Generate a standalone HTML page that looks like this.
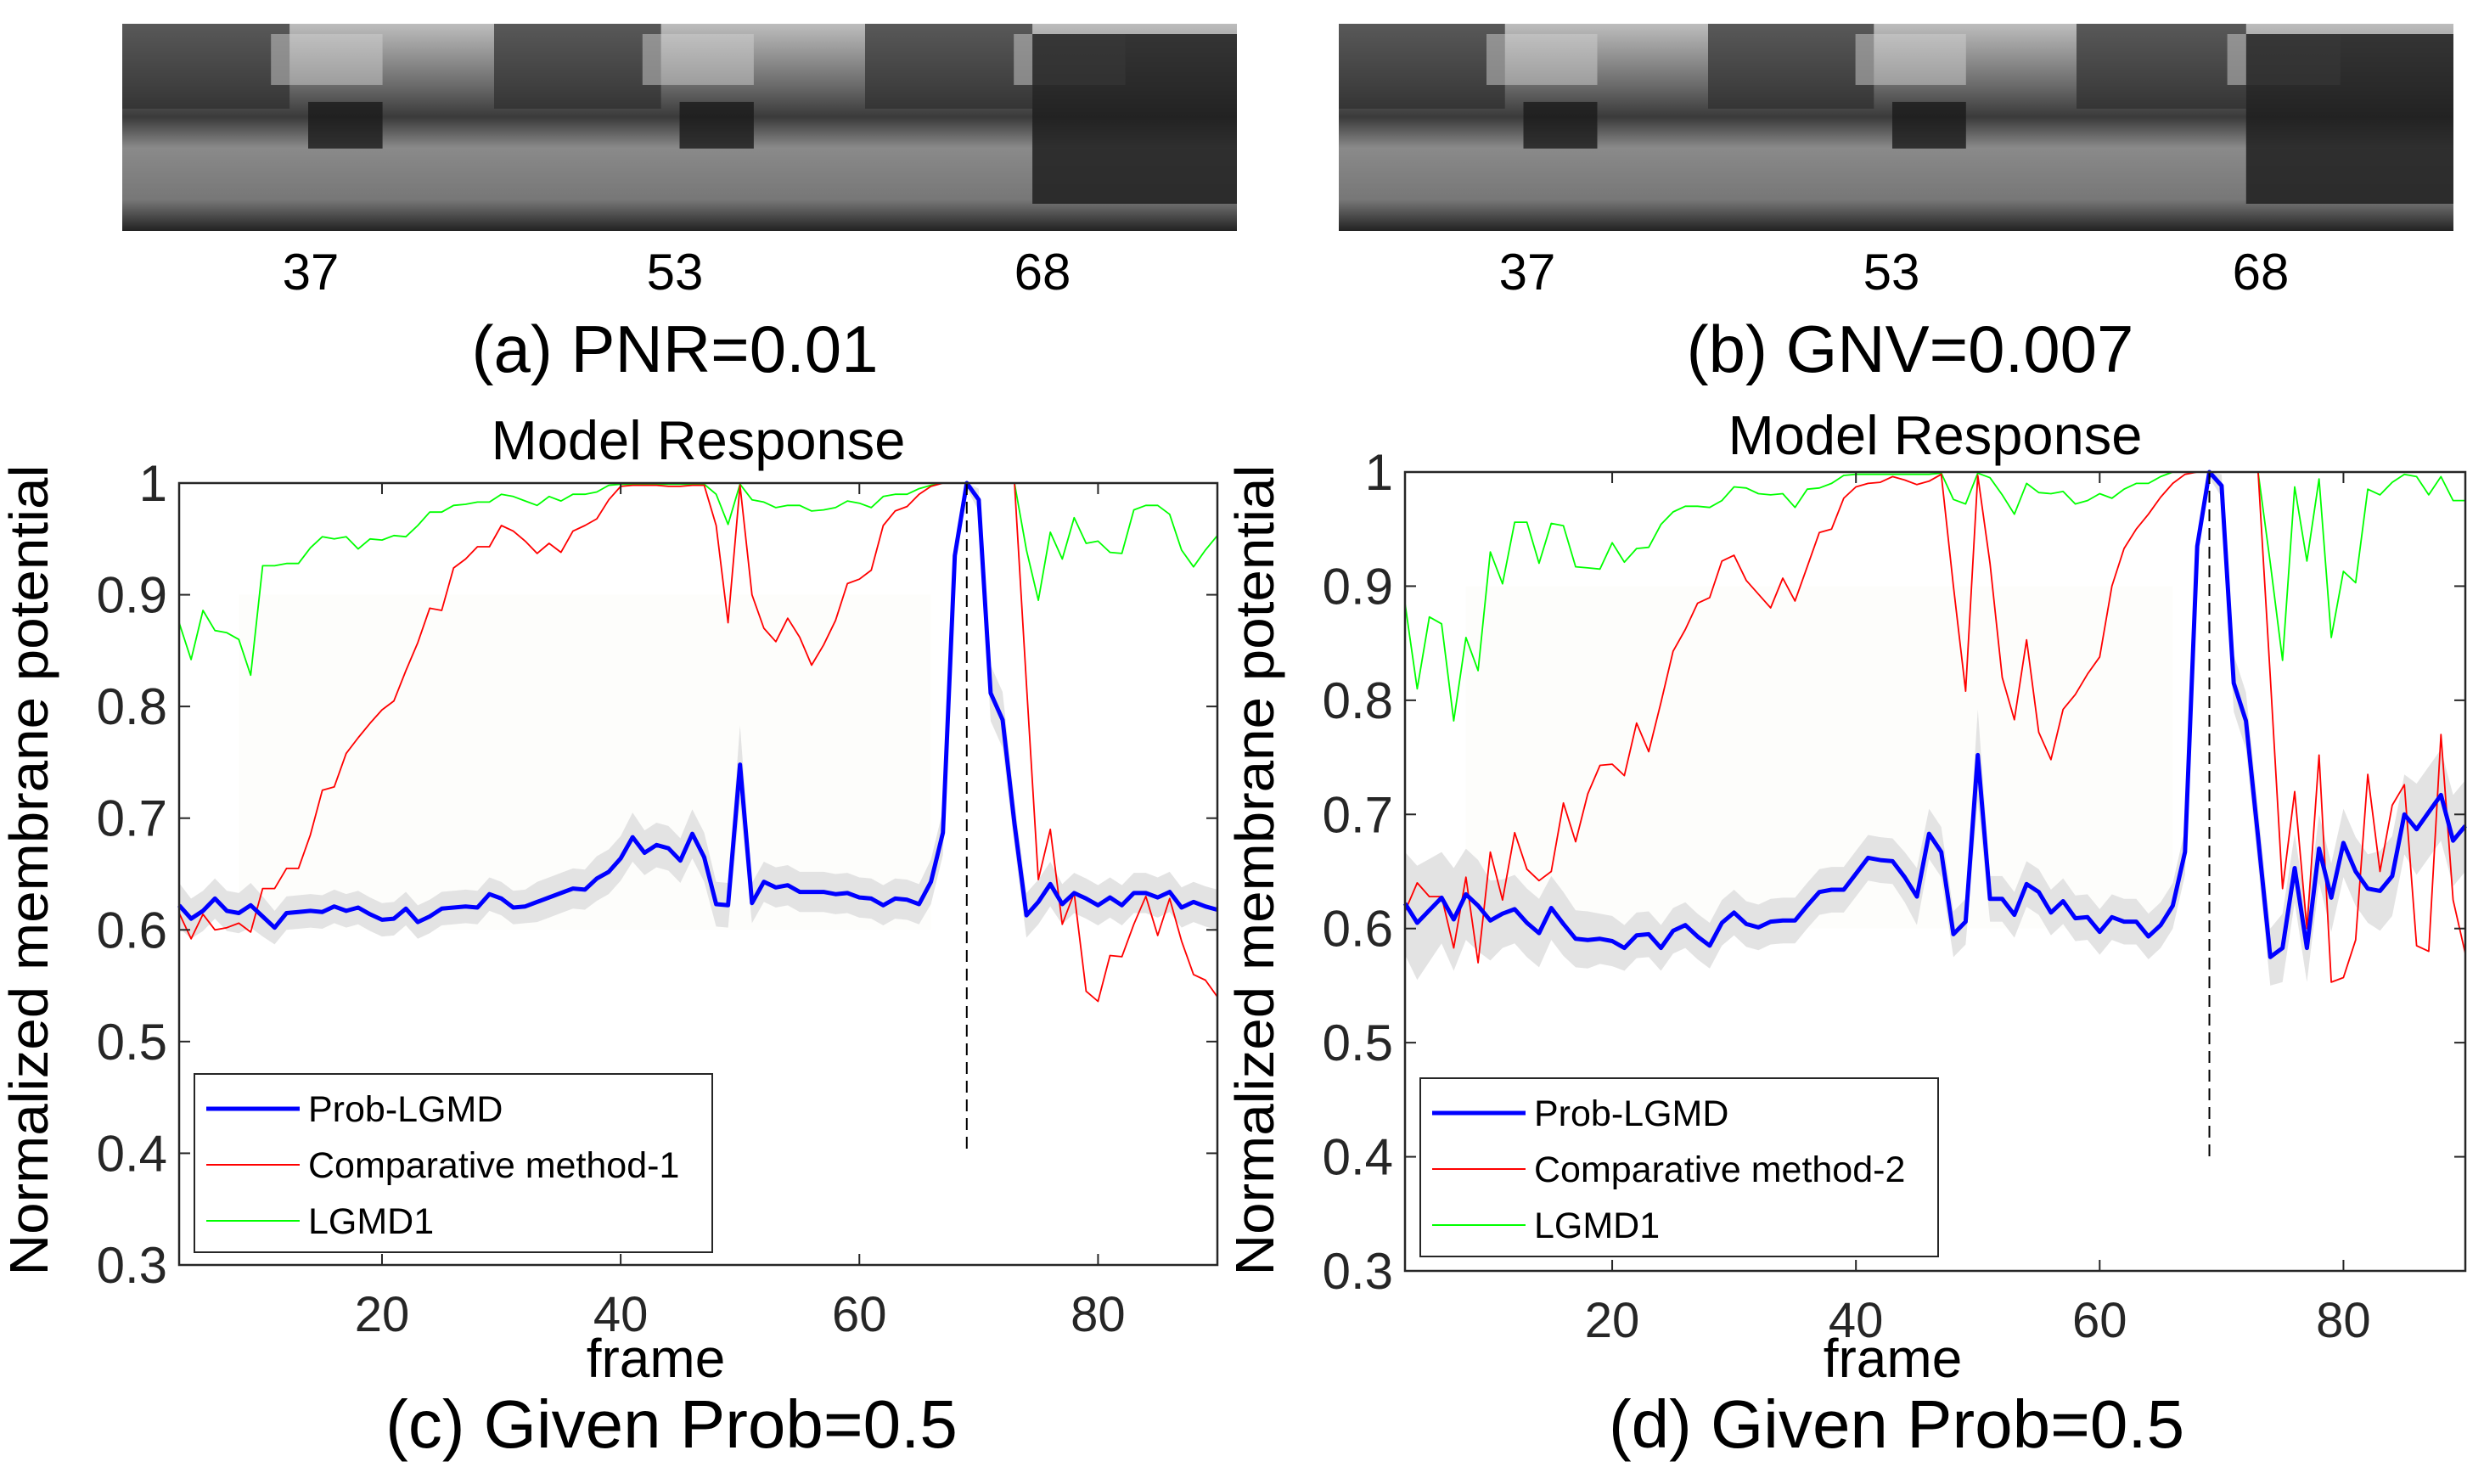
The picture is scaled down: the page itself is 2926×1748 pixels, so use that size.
<!DOCTYPE html>
<html><head><meta charset="utf-8">
<style>
html,body{margin:0;padding:0;background:#fff;}
svg{display:block;font-family:"Liberation Sans",sans-serif;}
</style></head>
<body>
<svg id="root" width="2926" height="1748" viewBox="0 0 2926 1748" xmlns="http://www.w3.org/2000/svg">
<defs>
<linearGradient id="photo" x1="0" y1="0" x2="0" y2="1">
<stop offset="0" stop-color="#bdbdbd"/><stop offset="0.3" stop-color="#6a6a6a"/><stop offset="0.45" stop-color="#3a3a3a"/><stop offset="0.6" stop-color="#8a8a8a"/><stop offset="0.85" stop-color="#777"/><stop offset="1" stop-color="#222"/>
</linearGradient>
</defs>
<g id="photos"></g>
<g id="chartL"></g>
<g id="chartR"></g>
</svg>
<script>
const frames = [];
for (let f = 3; f <= 90; f++) frames.push(f);
const xTicks = [20, 40, 60, 80];
const yTicks = [0.3, 0.4, 0.5, 0.6, 0.7, 0.8, 0.9, 1];
const yTickLabels = ["0.3","0.4","0.5","0.6","0.7","0.8","0.9","1"];
const collisionFrame = 69;

const blueC = [0.622,0.61,0.617,0.628,0.617,0.615,0.622,0.612,0.602,0.615,0.616,0.617,0.616,0.621,0.617,0.62,0.614,0.609,0.61,0.619,0.607,0.612,0.619,0.62,0.621,0.62,0.632,0.628,0.62,0.621,0.625,0.629,0.633,0.637,0.636,0.646,0.652,0.664,0.683,0.669,0.676,0.673,0.662,0.686,0.665,0.623,0.622,0.748,0.624,0.643,0.638,0.64,0.634,0.634,0.634,0.632,0.633,0.629,0.628,0.622,0.628,0.627,0.623,0.643,0.687,0.935,1.0,0.985,0.812,0.788,0.695,0.613,0.625,0.641,0.623,0.633,0.628,0.622,0.629,0.622,0.633,0.633,0.629,0.634,0.62,0.625,0.621,0.618];
const redC = [0.615,0.592,0.614,0.6,0.602,0.606,0.598,0.637,0.637,0.655,0.655,0.685,0.725,0.728,0.758,0.772,0.785,0.797,0.805,0.832,0.857,0.888,0.886,0.924,0.932,0.943,0.943,0.962,0.957,0.948,0.937,0.946,0.938,0.957,0.962,0.968,0.985,0.997,0.998,0.998,0.998,0.997,0.997,0.998,0.998,0.962,0.875,0.998,0.9,0.87,0.858,0.879,0.862,0.837,0.855,0.877,0.91,0.914,0.922,0.962,0.975,0.979,0.99,0.997,1,1,1,1,1,1,1,0.82,0.645,0.69,0.605,0.633,0.545,0.536,0.577,0.576,0.605,0.63,0.595,0.628,0.59,0.56,0.555,0.54];
const greenC = [0.875,0.842,0.886,0.868,0.866,0.86,0.828,0.926,0.926,0.928,0.928,0.942,0.952,0.95,0.952,0.941,0.95,0.949,0.953,0.952,0.962,0.974,0.974,0.98,0.981,0.983,0.983,0.99,0.988,0.984,0.98,0.988,0.984,0.99,0.99,0.992,0.998,0.999,0.999,0.999,0.999,0.999,0.999,0.999,0.999,0.99,0.963,0.999,0.985,0.983,0.978,0.98,0.98,0.975,0.976,0.978,0.984,0.982,0.978,0.988,0.99,0.99,0.995,0.998,1,1,1,1,1,1,1,0.94,0.895,0.956,0.932,0.969,0.946,0.948,0.938,0.937,0.976,0.98,0.98,0.972,0.94,0.925,0.94,0.953];
const spreadC = [0.02,0.018,0.018,0.018,0.018,0.018,0.02,0.018,0.015,0.015,0.015,0.015,0.015,0.015,0.015,0.015,0.015,0.015,0.015,0.015,0.015,0.015,0.015,0.015,0.015,0.015,0.015,0.015,0.015,0.015,0.018,0.018,0.018,0.018,0.018,0.02,0.02,0.02,0.022,0.02,0.02,0.02,0.02,0.022,0.022,0.02,0.02,0.035,0.018,0.018,0.018,0.018,0.018,0.018,0.018,0.018,0.018,0.018,0.018,0.018,0.018,0.018,0.018,0.02,0.02,0.01,0.005,0.01,0.025,0.025,0.02,0.02,0.02,0.02,0.018,0.018,0.018,0.018,0.018,0.018,0.018,0.018,0.018,0.018,0.018,0.018,0.018,0.018];

const blueD = [0.622,0.605,0.616,0.627,0.608,0.63,0.62,0.607,0.613,0.617,0.605,0.596,0.618,0.604,0.591,0.59,0.591,0.589,0.583,0.594,0.595,0.583,0.598,0.603,0.593,0.585,0.605,0.614,0.604,0.601,0.606,0.607,0.607,0.62,0.632,0.634,0.634,0.648,0.662,0.66,0.659,0.645,0.628,0.683,0.667,0.595,0.606,0.752,0.626,0.626,0.612,0.639,0.632,0.614,0.624,0.609,0.61,0.597,0.61,0.606,0.606,0.593,0.603,0.62,0.667,0.935,1.0,0.988,0.815,0.782,0.68,0.575,0.583,0.653,0.583,0.67,0.627,0.675,0.65,0.635,0.633,0.646,0.7,0.687,0.702,0.717,0.677,0.69];
const redD = [0.615,0.64,0.628,0.628,0.583,0.645,0.57,0.667,0.625,0.684,0.652,0.642,0.65,0.71,0.676,0.718,0.743,0.744,0.734,0.78,0.755,0.798,0.843,0.862,0.885,0.89,0.922,0.927,0.905,0.893,0.881,0.907,0.887,0.917,0.947,0.95,0.977,0.987,0.99,0.991,0.996,0.993,0.989,0.992,0.998,0.9,0.808,0.997,0.92,0.82,0.783,0.853,0.772,0.748,0.792,0.805,0.823,0.838,0.9,0.933,0.95,0.963,0.978,0.99,0.998,1,1,1,1,1,1,0.82,0.635,0.72,0.6,0.752,0.553,0.557,0.59,0.735,0.65,0.708,0.726,0.585,0.58,0.77,0.625,0.578];
const greenD = [0.885,0.81,0.873,0.867,0.782,0.855,0.826,0.93,0.902,0.956,0.956,0.92,0.955,0.953,0.917,0.916,0.915,0.938,0.921,0.933,0.934,0.954,0.965,0.97,0.97,0.969,0.975,0.987,0.986,0.981,0.98,0.981,0.969,0.985,0.986,0.99,0.997,0.998,0.998,0.998,0.998,0.998,0.998,0.998,0.999,0.976,0.972,0.999,0.995,0.98,0.963,0.99,0.982,0.981,0.983,0.972,0.975,0.981,0.977,0.985,0.99,0.99,0.996,1,1,1,1,1,1,1,1,0.92,0.835,0.987,0.922,0.994,0.855,0.913,0.903,0.985,0.98,0.991,0.998,0.996,0.98,0.996,0.975,0.975];
const spreadD = [0.045,0.05,0.045,0.04,0.045,0.04,0.04,0.035,0.03,0.03,0.03,0.03,0.028,0.028,0.025,0.025,0.022,0.022,0.02,0.02,0.02,0.02,0.02,0.02,0.02,0.02,0.02,0.02,0.02,0.02,0.02,0.02,0.02,0.02,0.02,0.02,0.02,0.02,0.02,0.02,0.02,0.022,0.025,0.022,0.022,0.02,0.02,0.04,0.02,0.02,0.02,0.02,0.02,0.02,0.02,0.02,0.02,0.02,0.02,0.02,0.02,0.02,0.02,0.02,0.02,0.01,0.005,0.01,0.025,0.025,0.025,0.025,0.03,0.03,0.03,0.03,0.03,0.03,0.03,0.03,0.035,0.035,0.035,0.04,0.04,0.04,0.04,0.04];

const NS = "http://www.w3.org/2000/svg";
function mk(parent, tag, attrs, text) {
  const e = document.createElementNS(NS, tag);
  for (const k in attrs) e.setAttribute(k, attrs[k]);
  if (text !== undefined) e.textContent = text;
  parent.appendChild(e);
  return e;
}

// photos
const photos = document.getElementById('photos');
[[144,582,1019,1457],[1577,2012,2446,2890]].forEach((b, si) => {
  for (let i = 0; i < 3; i++) {
    const g = mk(photos, 'g', {});
    
    
    const x0 = b[i], w = b[i+1]-b[i];
    mk(g, 'rect', {x:x0, y:28, width:w, height:244, fill:'url(#photo)'});
    mk(g, 'rect', {x:x0, y:28, width:w*0.45, height:100, fill:'#2e2e2e', opacity:0.7});
    mk(g, 'rect', {x:x0+w*0.4, y:40, width:w*0.3, height:60, fill:'#d0d0d0', opacity:0.5});
    if (i === 2) mk(g, 'rect', {x:x0+w*0.45, y:40, width:w*0.55, height:200, fill:'#1e1e1e', opacity:0.85});
    else mk(g, 'rect', {x:x0+w*0.5, y:120, width:w*0.2, height:55, fill:'#1a1a1a', opacity:0.8});
  }
});
function txt(parent, name, x, y, size, s, anchor, extra) {
  const t = mk(parent, 'text', Object.assign({x:x, y:y, 'font-size':size, 'text-anchor':anchor||'middle', fill:'#000'}, extra||{}), s);
  
  
  return t;
}
[[366,'37'],[795,'53'],[1228,'68'],[1799,'37'],[2228,'53'],[2663,'68']].forEach(p => txt(photos,'frame-number',p[0],341,60,p[1]));
txt(photos,'caption-a',795,438,78,'(a)  PNR=0.01');
txt(photos,'caption-b',2250,438,78,'(b)  GNV=0.007');

function chart(gid, L, R, T, B, blue, red, green, spread, redName, titleY, cap, capX, legT) {
  const g = document.getElementById(gid);
  const xs = v => L + (v - 3) / 87 * (R - L);
  const ys = v => B - (v - 0.3) / 0.7 * (B - T);
  mk(g, 'rect', {x:L, y:T, width:R-L, height:B-T, fill:'#fff'});
  mk(g, 'rect', {x:xs(8), y:ys(0.9), width:xs(66)-xs(8), height:ys(0.6)-ys(0.9), fill:'#fdfdfb'});
  let up = '', lo = '';
  frames.forEach((f, i) => { up += (i ? 'L' : 'M') + xs(f) + ',' + ys(Math.min(1, blue[i] + spread[i])); });
  for (let i = frames.length - 1; i >= 0; i--) lo += 'L' + xs(frames[i]) + ',' + ys(blue[i] - spread[i]);
  const band = mk(g, 'path', {d: up + lo + 'Z', fill:'#e3e3e3', stroke:'none'});
  
  
  const line = (arr, col, w, name) => {
    const d = frames.map((f, i) => (i ? 'L' : 'M') + xs(f).toFixed(1) + ',' + ys(arr[i]).toFixed(1)).join('');
    const p = mk(g, 'path', {d:d, fill:'none', stroke:col, 'stroke-width':w, 'stroke-linejoin':'round'});
    
    
  };
  line(green, '#00ff00', 1.8, 'lgmd1-line');
  line(red, '#ff0000', 1.8, 'comparative-line');
  line(blue, '#0000ff', 5, 'prob-lgmd-line');
  const dash = mk(g, 'line', {x1:xs(collisionFrame), x2:xs(collisionFrame), y1:ys(1), y2:ys(0.4), stroke:'#000', 'stroke-width':2, 'stroke-dasharray':'14,8'});
  
  
  const box = mk(g, 'rect', {x:L, y:T, width:R-L, height:B-T, fill:'none', stroke:'#262626', 'stroke-width':2.5});
  
  
  xTicks.forEach(v => {
    mk(g, 'line', {x1:xs(v), x2:xs(v), y1:B, y2:B-13, stroke:'#262626', 'stroke-width':2});
    mk(g, 'line', {x1:xs(v), x2:xs(v), y1:T, y2:T+13, stroke:'#262626', 'stroke-width':2});
    txt(g, 'x-tick-label', xs(v), B+78, 58, String(v), 'middle', {fill:'#262626'});
  });
  yTicks.forEach((v, i) => {
    mk(g, 'line', {x1:L, x2:L+13, y1:ys(v), y2:ys(v), stroke:'#262626', 'stroke-width':2});
    mk(g, 'line', {x1:R, x2:R-13, y1:ys(v), y2:ys(v), stroke:'#262626', 'stroke-width':2});
    txt(g, 'y-tick-label', L-14, ys(v)+21, 60, yTickLabels[i], 'end', {fill:'#262626'});
  });
  txt(g, 'chart-title', (L+R)/2, titleY, 65, 'Model Response');
  txt(g, 'x-axis-title', (L+R)/2 - 50, 1622, 64, 'frame');
  txt(g, 'sub-caption', capX, 1705, 80, cap);
  txt(g, 'y-axis-title', 0, 0, 64, 'Normalized membrane potential', 'middle', {transform:'translate(' + (L-155) + ',1025) rotate(-90)', textLength:955, lengthAdjust:'spacingAndGlyphs'});
  const lg = mk(g, 'g', {});
  
  
  const lx = L + 18, ly = legT;
  mk(lg, 'rect', {x:lx, y:ly, width:610, height:210, fill:'#fff', stroke:'#262626', 'stroke-width':2});
  [['Prob-LGMD','#0000ff',5],[redName,'#ff0000',2],['LGMD1','#00ff00',2]].forEach((e, i) => {
    const ey = ly + 41 + i * 66;
    const le = mk(lg, 'g', {});
    
    
    mk(le, 'line', {x1:lx+14, x2:lx+124, y1:ey, y2:ey, stroke:e[1], 'stroke-width':e[2]});
    txt(le, 'legend-label', lx+134, ey+15, 43, e[0], 'start');
  });
}
chart('chartL', 211, 1434, 569, 1490, blueC, redC, greenC, spreadC, 'Comparative method-1', 541, '(c)  Given Prob=0.5', 791, 1265);
chart('chartR', 1655, 2904, 556, 1497, blueD, redD, greenD, spreadD, 'Comparative method-2', 535, '(d)  Given Prob=0.5', 2234, 1270);
</script>
</body></html>
